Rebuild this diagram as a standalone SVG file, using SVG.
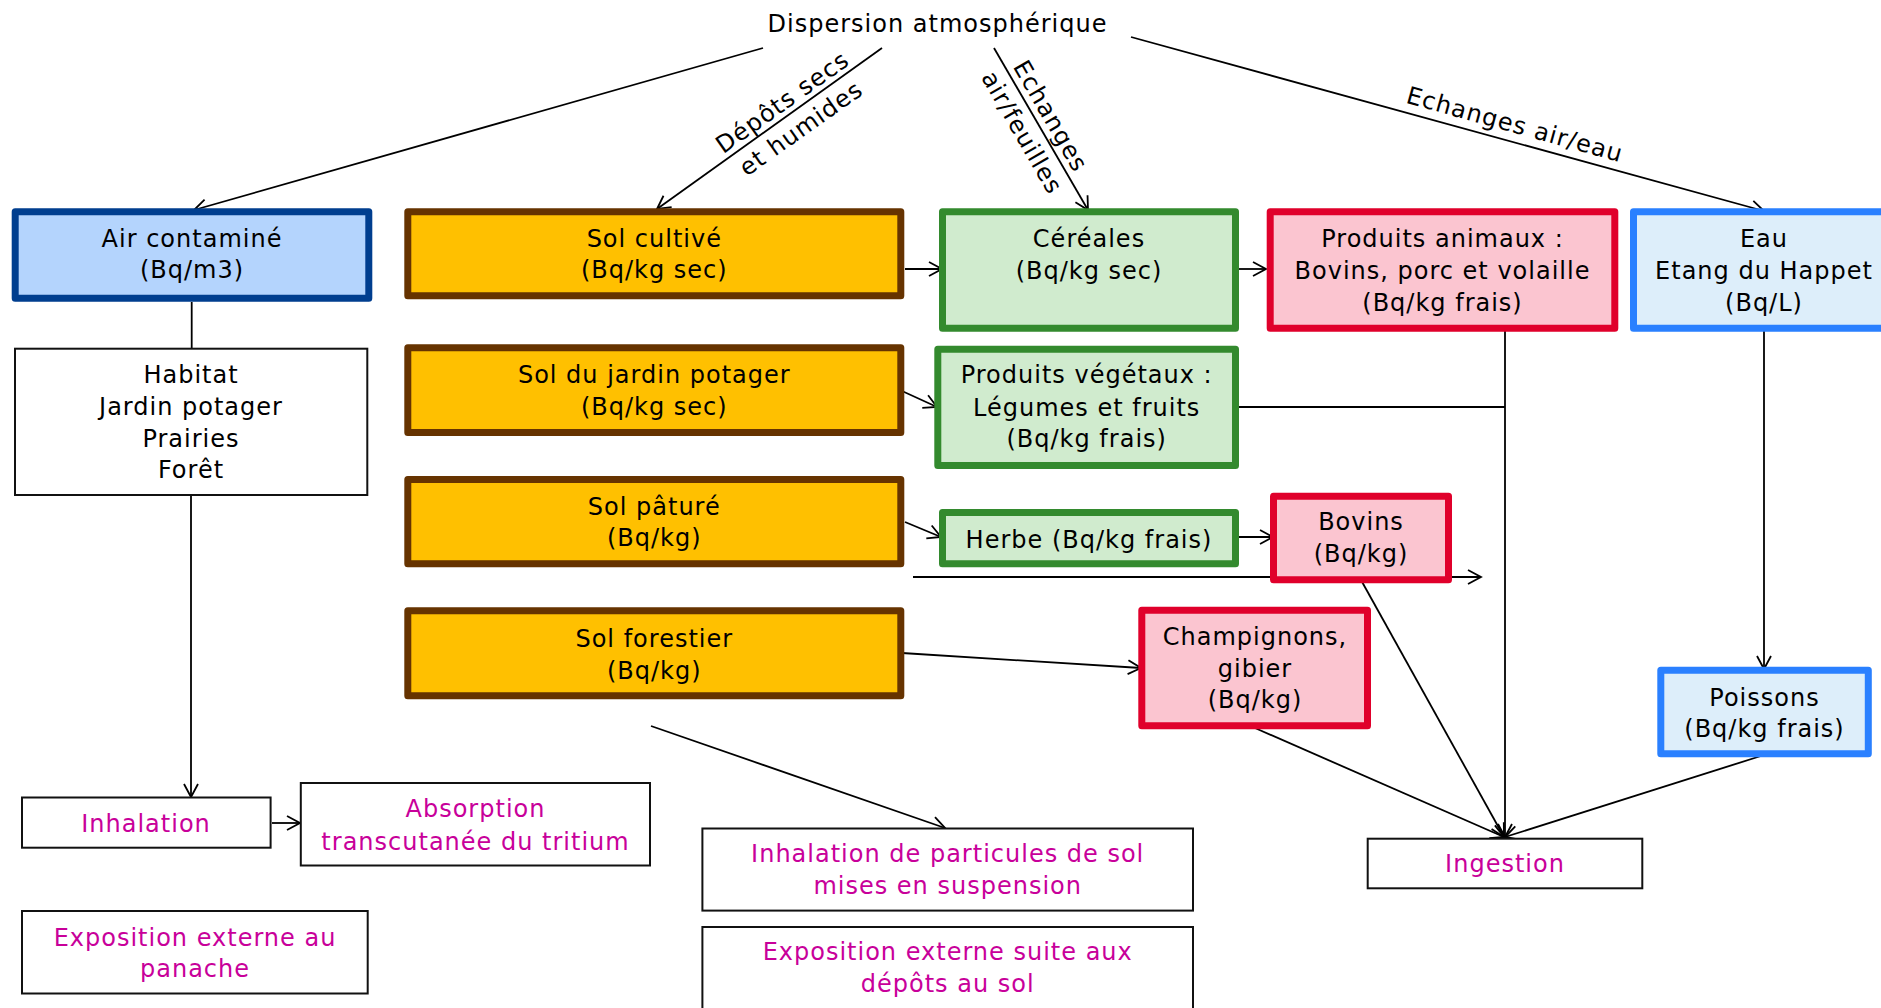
<svg xmlns="http://www.w3.org/2000/svg" width="1881" height="1008" viewBox="0 0 1881 1008">
<defs>
<marker id="arr" markerUnits="userSpaceOnUse" markerWidth="20" markerHeight="20" refX="14" refY="7.5" orient="auto" overflow="visible">
<path d="M1,0.5 L14,7.5 L1,14.5" fill="none" stroke="#000" stroke-width="1.8"/>
</marker>
<style>
text{font-family:"DejaVu Sans","Liberation Sans",sans-serif;font-size:24px;letter-spacing:1px;text-anchor:middle;fill:#000}
.m{fill:#c8009a}
.sol{fill:#ffc000;stroke:#663300;stroke-width:7;stroke-linejoin:round}
.air{fill:#b4d4fd;stroke:#003e8f;stroke-width:7;stroke-linejoin:round}
.veg{fill:#d0ebce;stroke:#338a2e;stroke-width:7;stroke-linejoin:round}
.ani{fill:#fbc5d0;stroke:#e0002b;stroke-width:7;stroke-linejoin:round}
.eau{fill:#ddeefa;stroke:#2a80ff;stroke-width:7;stroke-linejoin:round}
.pl{fill:#fff;stroke:#111;stroke-width:2}
.c{fill:none;stroke:#000;stroke-width:1.8}
.a{marker-end:url(#arr)}
</style>
</defs>
<rect width="1881" height="1008" fill="#fff"/>

<g id="connectors">
<line class="c a" x1="763" y1="48" x2="194" y2="210"/>
<line class="c a" x1="882" y1="48" x2="657" y2="209"/>
<line class="c a" x1="994" y1="48" x2="1088" y2="210"/>
<line class="c a" x1="1131" y1="37" x2="1764" y2="211"/>
<line class="c" x1="191.7" y1="302" x2="191.7" y2="348" stroke-width="3"/>
<line class="c a" x1="191" y1="496" x2="191" y2="797"/>
<line class="c a" x1="272" y1="823" x2="300" y2="823"/>
<line class="c a" x1="905" y1="269" x2="942" y2="269"/>
<line class="c a" x1="902" y1="391" x2="937" y2="407"/>
<line class="c a" x1="1236" y1="269" x2="1266" y2="269"/>
<line class="c a" x1="905" y1="522" x2="941" y2="537"/>
<line class="c a" x1="1236" y1="537" x2="1273" y2="537"/>
<line class="c a" x1="913" y1="577" x2="1481" y2="577" stroke-width="2.2"/>
<line class="c a" x1="902" y1="653" x2="1141" y2="668"/>
<line class="c a" x1="651" y1="726" x2="945" y2="828"/>
<line class="c a" x1="1505" y1="331" x2="1505" y2="837"/>
<line class="c" x1="1236" y1="407" x2="1505" y2="407"/>
<line class="c a" x1="1361" y1="580" x2="1504" y2="837"/>
<line class="c a" x1="1255" y1="728" x2="1504" y2="837"/>
<line class="c a" x1="1764" y1="331" x2="1764" y2="669"/>
<line class="c a" x1="1764" y1="755" x2="1505" y2="837"/>
<g transform="translate(790,113) rotate(-35.4)"><text x="0" y="-5">Dépôts secs</text><text x="0" y="27">et humides</text></g>
<g transform="translate(1037.5,123.6) rotate(60)"><text x="0" y="-7">Echanges</text><text x="0" y="26">air/feuilles</text></g>
<g transform="translate(1510,142) rotate(15.5)"><text x="0" y="-10">Echanges air/eau</text></g>
</g>

<g id="dispersion"><text x="937.5" y="32">Dispersion atmosphérique</text></g>

<g id="air"><rect class="air" x="15.2" y="211.8" width="353.6" height="86.4"/><text x="192" y="247.3">Air contaminé</text><text x="192" y="278.3">(Bq/m3)</text></g>
<g id="habitat"><rect class="pl" x="15" y="348.7" width="352.3" height="146.3"/><text x="191" y="383.3">Habitat</text><text x="191" y="415">Jardin potager</text><text x="191" y="446.7">Prairies</text><text x="191" y="478.3">Forêt</text></g>

<g id="sol-cultive"><rect class="sol" x="407.8" y="211.8" width="493" height="84"/><text x="654.3" y="246.7">Sol cultivé</text><text x="654.3" y="278.3">(Bq/kg sec)</text></g>
<g id="sol-jardin"><rect class="sol" x="407.8" y="347.8" width="493" height="84.7"/><text x="654.3" y="383.3">Sol du jardin potager</text><text x="654.3" y="415">(Bq/kg sec)</text></g>
<g id="sol-pature"><rect class="sol" x="407.8" y="479.5" width="493" height="84.3"/><text x="654.3" y="514.7">Sol pâturé</text><text x="654.3" y="545.7">(Bq/kg)</text></g>
<g id="sol-forestier"><rect class="sol" x="407.8" y="610.8" width="493" height="85"/><text x="654.3" y="646.7">Sol forestier</text><text x="654.3" y="678.6">(Bq/kg)</text></g>

<g id="cereales"><rect class="veg" x="942.5" y="211.8" width="293" height="116.4"/><text x="1089" y="247.3">Céréales</text><text x="1089" y="279.3">(Bq/kg sec)</text></g>
<g id="vegetaux"><rect class="veg" x="937.8" y="349.2" width="297.7" height="116.3"/><text x="1086.7" y="383.3">Produits végétaux :</text><text x="1086.7" y="415.5">Légumes et fruits</text><text x="1086.7" y="447.3">(Bq/kg frais)</text></g>
<g id="herbe"><rect class="veg" x="942.5" y="512.5" width="293" height="51.3"/><text x="1089" y="547.7">Herbe (Bq/kg frais)</text></g>

<g id="animaux"><rect class="ani" x="1270.2" y="211.8" width="344.6" height="116.4"/><text x="1442.5" y="246.7">Produits animaux :</text><text x="1442.5" y="279">Bovins, porc et volaille</text><text x="1442.5" y="310.7">(Bq/kg frais)</text></g>
<g id="bovins"><rect class="ani" x="1273.5" y="496.2" width="175" height="83.6"/><text x="1361" y="530">Bovins</text><text x="1361" y="561.7">(Bq/kg)</text></g>
<g id="champignons"><rect class="ani" x="1141.8" y="610.2" width="225.7" height="115.6"/><text x="1255" y="645">Champignons,</text><text x="1255" y="676.5">gibier</text><text x="1255" y="708">(Bq/kg)</text></g>

<g id="eau"><rect class="eau" x="1633.5" y="211.8" width="261" height="116.4"/><text x="1764" y="246.7">Eau</text><text x="1764" y="279">Etang du Happet</text><text x="1764" y="310.7">(Bq/L)</text></g>
<g id="poissons"><rect class="eau" x="1660.8" y="670.2" width="207.5" height="83.6"/><text x="1764.5" y="705.7">Poissons</text><text x="1764.5" y="736.7">(Bq/kg frais)</text></g>

<g id="inhalation"><rect class="pl" x="22" y="797.5" width="248.6" height="50.2"/><text class="m" x="146" y="832">Inhalation</text></g>
<g id="absorption"><rect class="pl" x="300.8" y="783" width="349.2" height="82.5"/><text class="m" x="475.5" y="816.7">Absorption</text><text class="m" x="475.5" y="849.7">transcutanée du tritium</text></g>
<g id="expo-panache"><rect class="pl" x="22" y="911" width="345.7" height="82.5"/><text class="m" x="195" y="945.7">Exposition externe au</text><text class="m" x="195" y="976.6">panache</text></g>
<g id="inhal-particules"><rect class="pl" x="702.4" y="828.5" width="490.6" height="82.1"/><text class="m" x="947.7" y="862">Inhalation de particules de sol</text><text class="m" x="947.7" y="893.5">mises en suspension</text></g>
<g id="expo-depots"><rect class="pl" x="702.4" y="927" width="490.6" height="100"/><text class="m" x="947.7" y="959.8">Exposition externe suite aux</text><text class="m" x="947.7" y="991.8">dépôts au sol</text></g>
<g id="ingestion"><rect class="pl" x="1367.7" y="838.7" width="274.6" height="49.6"/><text class="m" x="1505" y="872.3">Ingestion</text></g>
</svg>
